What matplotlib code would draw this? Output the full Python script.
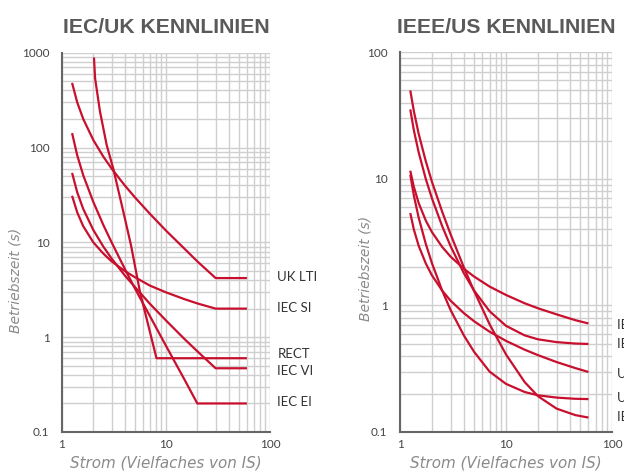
import matplotlib
matplotlib.use("Agg")
import matplotlib.pyplot as plt

RED = "#c8102e"
GRID = "#cfcfcf"

# IEC / UK curves (current in multiples of IS, time in s)
iec_i = [1.25, 1.4, 1.6, 2, 2.5, 3, 4, 5, 7, 10, 15, 20, 30, 60]
uk_lti = [480, 300, 200, 120, 80, 60, 40, 30, 20, 13.3, 8.6, 6.3, 4.2, 4.2]
iec_si = [31, 20.7, 14.8, 10.0, 7.6, 6.3, 5.0, 4.3, 3.5, 2.97, 2.52, 2.27, 2.0, 2.0]
iec_vi = [54, 33.8, 22.5, 13.5, 9.0, 6.75, 4.5, 3.4, 2.25, 1.5, 0.96, 0.71, 0.47, 0.47]
ei_i = [1.25, 1.4, 1.6, 2, 2.5, 3, 4, 5, 7, 10, 15, 20, 60]
iec_ei = [142, 83, 51, 26.7, 15.2, 10, 5.3, 3.3, 1.67, 0.81, 0.36, 0.2, 0.2]
rect_i = [2.03, 2.08, 2.32, 2.69, 3.11, 3.89, 4.6, 5.62, 8.1, 60]
rect_t = [890, 537, 239, 106, 60, 21, 9.4, 3.0, 0.6, 0.6]

iec_curves = [(iec_i, uk_lti), (iec_i, iec_si), (iec_i, iec_vi), (ei_i, iec_ei), (rect_i, rect_t)]
iec_names = ["UK LTI", "IEC SI", "RECT", "IEC VI", "IEC EI"]
iec_label_t = [4.3, 2.03, 0.66, 0.44, 0.207]

# IEEE / US curves
us_i = [1.25, 1.35, 1.5, 1.75, 2, 2.5, 3, 4, 5, 7, 10, 15, 20, 30, 45, 60]
ieee_mi = [11.6, 8.67, 6.44, 4.69, 3.80, 2.90, 2.43, 1.95, 1.69, 1.41, 1.21, 1.04, 0.95, 0.85, 0.765, 0.72]
ieee_vi = [35.4, 24.3, 16.2, 10.0, 7.03, 4.23, 2.94, 1.80, 1.31, 0.90, 0.69, 0.58, 0.54, 0.513, 0.50, 0.496]
ieee_ei = [50, 34.4, 22.7, 13.8, 9.5, 5.5, 3.65, 2.0, 1.30, 0.71, 0.41, 0.248, 0.192, 0.153, 0.136, 0.13]
us_co8 = [10.8, 7.41, 4.94, 3.07, 2.16, 1.31, 0.92, 0.58, 0.43, 0.30, 0.24, 0.207, 0.195, 0.187, 0.183, 0.182]
us_co2 = [5.37, 3.99, 2.96, 2.15, 1.73, 1.31, 1.09, 0.87, 0.75, 0.62, 0.525, 0.447, 0.405, 0.357, 0.32, 0.298]

us_curves = [ieee_mi, ieee_vi, ieee_ei, us_co8, us_co2]
us_names = ["IEEE MI", "IEEE VI", "US CO2", "US CO8", "IEEE EI"]
us_label_t = [0.70, 0.50, 0.289, 0.186, 0.1315]

plt.rcParams["font.family"] = ["Lato", "DejaVu Sans"]

fig = plt.figure(figsize=(6.24, 4.74), dpi=100)
ax1 = fig.add_axes([62 / 624, 1 - 432 / 474, 208 / 624, 379.3 / 474])
ax2 = fig.add_axes([400 / 624, 1 - 432 / 474, 212 / 624, 379.7 / 474])


def style(ax, ymin, ymax, yticks, ylabels, title, ylab_x, ylab_y):
    ax.set_xscale("log")
    ax.set_yscale("log")
    ax.set_xlim(1, 100)
    ax.set_ylim(ymin, ymax)
    ax.grid(True, which="both", color=GRID, linewidth=1.0)
    ax.set_axisbelow(True)
    for s in ["top", "right"]:
        ax.spines[s].set_visible(False)
    for s in ["left", "bottom"]:
        ax.spines[s].set_color("#666666")
        ax.spines[s].set_linewidth(1.5)
    ax.set_xticks([1, 10, 100])
    ax.set_xticklabels(["1", "10", "100"])
    ax.set_yticks(yticks)
    ax.set_yticklabels(ylabels)
    ax.tick_params(which="both", length=0, labelsize=8.5, colors="#444444")
    ax.tick_params(axis="y", pad=9)
    ax.tick_params(axis="x", pad=5)
    ax.set_xlabel("Strom (Vielfaches von IS)", fontsize=10.9, style="italic",
                  color="#8a8a8a", family=["DejaVu Sans"])
    ax.xaxis.set_label_coords(0.5, -0.062)
    ax.set_ylabel("Betriebszeit (s)", fontsize=10, style="italic",
                  color="#8a8a8a", family=["DejaVu Sans"])
    ax.yaxis.set_label_coords(ylab_x, ylab_y)
    ax.set_title(title, fontsize=15.2, fontweight="bold", color="#5a5a5a",
                 family=["Liberation Sans", "DejaVu Sans"], pad=14)


style(ax1, 0.1, 1000, [0.1, 1, 10, 100, 1000], ["0.1", "1", "10", "100", "1000"],
      "IEC/UK KENNLINIEN", -0.19, 0.40)
style(ax2, 0.1, 100, [0.1, 1, 10, 100], ["0.1", "1", "10", "100"],
      "IEEE/US KENNLINIEN", -0.13, 0.43)

for xs, ys in iec_curves:
    ax1.plot(xs, ys, color=RED, linewidth=1.6, solid_capstyle="butt")
for name, yt in zip(iec_names, iec_label_t):
    ax1.text(1.035, yt, name, transform=ax1.get_yaxis_transform(), fontsize=9.5,
             color="#333333", va="center", ha="left")

for ys in us_curves:
    ax2.plot(us_i, ys, color=RED, linewidth=1.6, solid_capstyle="butt")
for name, yt in zip(us_names, us_label_t):
    ax2.text(1.025, yt, name, transform=ax2.get_yaxis_transform(), fontsize=9.5,
             color="#333333", va="center", ha="left")

fig.savefig("out.png", dpi=100)
